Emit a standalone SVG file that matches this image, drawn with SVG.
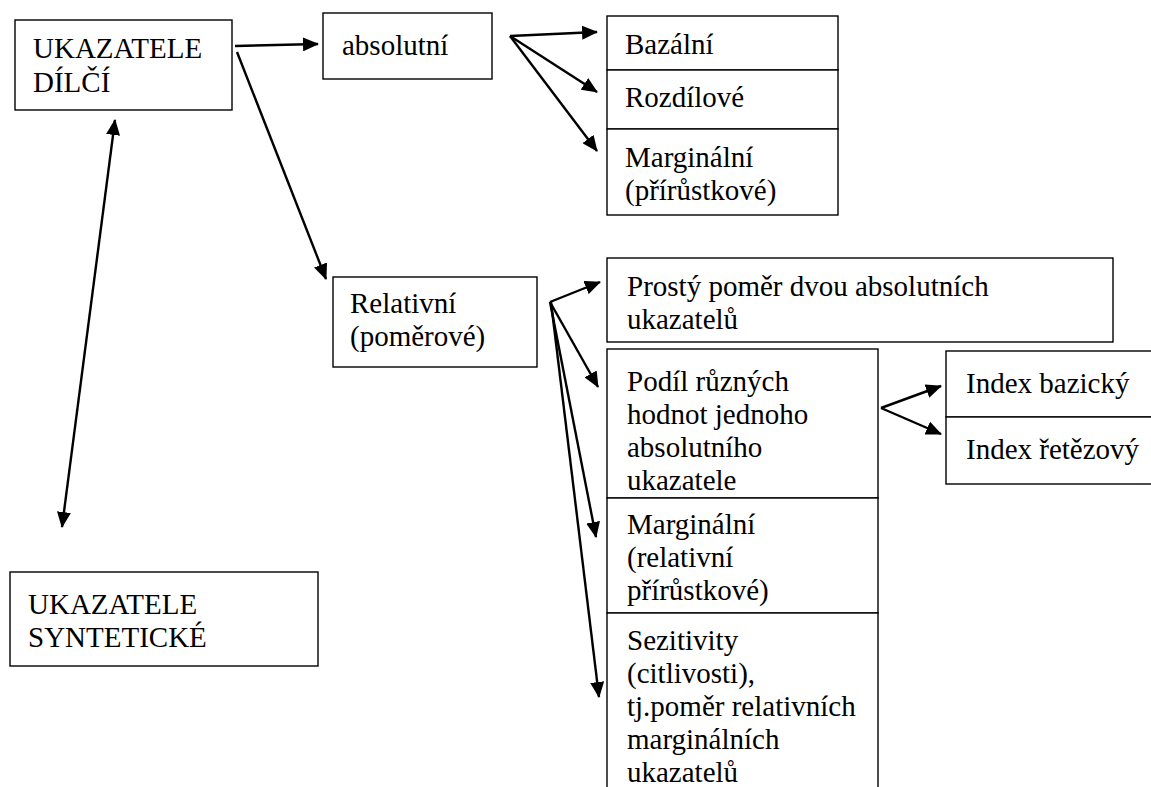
<svg xmlns="http://www.w3.org/2000/svg" width="1151" height="787" viewBox="0 0 1151 787">
<defs>
<marker id="ah" markerUnits="userSpaceOnUse" markerWidth="16" markerHeight="14" refX="15" refY="7" orient="auto">
<path d="M0,0 L16,7 L0,14 Z" fill="#000"/>
</marker>
<marker id="ahs" markerUnits="userSpaceOnUse" markerWidth="16" markerHeight="14" refX="1" refY="7" orient="auto">
<path d="M16,0 L0,7 L16,14 Z" fill="#000"/>
</marker>
</defs>
<rect width="1151" height="787" fill="#fff"/>
<g id="n-dilci"><rect fill="#fff" stroke="#000" stroke-width="1.4" x="15" y="20" width="217" height="90"/><text font-family="Times New Roman" font-size="29" style="font-family:'Liberation Serif','Times New Roman',serif !important;font-size:29px" x="33" y="58">UKAZATELE</text><text font-family="Times New Roman" font-size="29" style="font-family:'Liberation Serif','Times New Roman',serif !important;font-size:29px" x="33" y="92">DÍLČÍ</text></g>
<g id="n-absolutni"><rect fill="#fff" stroke="#000" stroke-width="1.4" x="323" y="13" width="169" height="66"/><text font-family="Times New Roman" font-size="29" style="font-family:'Liberation Serif','Times New Roman',serif !important;font-size:29px" x="342" y="55">absolutní</text></g>
<g id="n-bazalni"><rect fill="#fff" stroke="#000" stroke-width="1.4" x="607" y="16" width="231" height="54"/><text font-family="Times New Roman" font-size="29" style="font-family:'Liberation Serif','Times New Roman',serif !important;font-size:29px" x="625" y="54">Bazální</text></g>
<g id="n-rozdilove"><rect fill="#fff" stroke="#000" stroke-width="1.4" x="607" y="70" width="231" height="59"/><text font-family="Times New Roman" font-size="29" style="font-family:'Liberation Serif','Times New Roman',serif !important;font-size:29px" x="625" y="107">Rozdílové</text></g>
<g id="n-marginalni"><rect fill="#fff" stroke="#000" stroke-width="1.4" x="607" y="129" width="231" height="86"/><text font-family="Times New Roman" font-size="29" style="font-family:'Liberation Serif','Times New Roman',serif !important;font-size:29px" x="625" y="167">Marginální</text><text font-family="Times New Roman" font-size="29" style="font-family:'Liberation Serif','Times New Roman',serif !important;font-size:29px" x="625" y="200">(přírůstkové)</text></g>
<g id="n-relativni"><rect fill="#fff" stroke="#000" stroke-width="1.4" x="333" y="277" width="204" height="90"/><text font-family="Times New Roman" font-size="29" style="font-family:'Liberation Serif','Times New Roman',serif !important;font-size:29px" x="350" y="313">Relativní</text><text font-family="Times New Roman" font-size="29" style="font-family:'Liberation Serif','Times New Roman',serif !important;font-size:29px" x="350" y="346">(poměrové)</text></g>
<g id="n-prosty"><rect fill="#fff" stroke="#000" stroke-width="1.4" x="607" y="258" width="506" height="84"/><text font-family="Times New Roman" font-size="29" style="font-family:'Liberation Serif','Times New Roman',serif !important;font-size:29px" x="627" y="296">Prostý poměr dvou absolutních</text><text font-family="Times New Roman" font-size="29" style="font-family:'Liberation Serif','Times New Roman',serif !important;font-size:29px" x="627" y="329">ukazatelů</text></g>
<g id="n-podil"><rect fill="#fff" stroke="#000" stroke-width="1.4" x="607" y="349" width="271" height="149"/><text font-family="Times New Roman" font-size="29" style="font-family:'Liberation Serif','Times New Roman',serif !important;font-size:29px" x="627" y="391">Podíl různých</text><text font-family="Times New Roman" font-size="29" style="font-family:'Liberation Serif','Times New Roman',serif !important;font-size:29px" x="627" y="424">hodnot jednoho</text><text font-family="Times New Roman" font-size="29" style="font-family:'Liberation Serif','Times New Roman',serif !important;font-size:29px" x="627" y="457">absolutního</text><text font-family="Times New Roman" font-size="29" style="font-family:'Liberation Serif','Times New Roman',serif !important;font-size:29px" x="627" y="490">ukazatele</text></g>
<g id="n-marg-rel"><rect fill="#fff" stroke="#000" stroke-width="1.4" x="607" y="498" width="271" height="115"/><text font-family="Times New Roman" font-size="29" style="font-family:'Liberation Serif','Times New Roman',serif !important;font-size:29px" x="627" y="534">Marginální</text><text font-family="Times New Roman" font-size="29" style="font-family:'Liberation Serif','Times New Roman',serif !important;font-size:29px" x="627" y="567">(relativní</text><text font-family="Times New Roman" font-size="29" style="font-family:'Liberation Serif','Times New Roman',serif !important;font-size:29px" x="627" y="600">přírůstkové)</text></g>
<g id="n-sezitivity"><rect fill="#fff" stroke="#000" stroke-width="1.4" x="607" y="613" width="271" height="190"/><text font-family="Times New Roman" font-size="29" style="font-family:'Liberation Serif','Times New Roman',serif !important;font-size:29px" x="627" y="650">Sezitivity</text><text font-family="Times New Roman" font-size="29" style="font-family:'Liberation Serif','Times New Roman',serif !important;font-size:29px" x="627" y="683">(citlivosti),</text><text font-family="Times New Roman" font-size="29" style="font-family:'Liberation Serif','Times New Roman',serif !important;font-size:29px" x="627" y="716">tj.poměr relativních</text><text font-family="Times New Roman" font-size="29" style="font-family:'Liberation Serif','Times New Roman',serif !important;font-size:29px" x="627" y="749">marginálních</text><text font-family="Times New Roman" font-size="29" style="font-family:'Liberation Serif','Times New Roman',serif !important;font-size:29px" x="627" y="782">ukazatelů</text></g>
<g id="n-index-baz"><rect fill="#fff" stroke="#000" stroke-width="1.4" x="946" y="351" width="220" height="66"/><text font-family="Times New Roman" font-size="29" style="font-family:'Liberation Serif','Times New Roman',serif !important;font-size:29px" x="966" y="393">Index bazický</text></g>
<g id="n-index-ret"><rect fill="#fff" stroke="#000" stroke-width="1.4" x="946" y="417" width="220" height="67"/><text font-family="Times New Roman" font-size="29" style="font-family:'Liberation Serif','Times New Roman',serif !important;font-size:29px" x="966" y="459">Index řetězový</text></g>
<g id="n-synteticke"><rect fill="#fff" stroke="#000" stroke-width="1.4" x="10" y="572" width="308" height="94"/><text font-family="Times New Roman" font-size="29" style="font-family:'Liberation Serif','Times New Roman',serif !important;font-size:29px" x="28" y="614">UKAZATELE</text><text font-family="Times New Roman" font-size="29" style="font-family:'Liberation Serif','Times New Roman',serif !important;font-size:29px" x="28" y="647">SYNTETICKÉ</text></g>
<g id="connectors" stroke="#000" stroke-width="2.4" fill="none" marker-end="url(#ah)">
<line x1="235" y1="46" x2="318" y2="44"/>
<line x1="237" y1="52" x2="326" y2="279"/>
<line x1="62" y1="527" x2="115" y2="120" marker-start="url(#ahs)"/>
<line x1="510" y1="36" x2="597" y2="32"/>
<line x1="510" y1="36" x2="597" y2="92"/>
<line x1="510" y1="36" x2="597" y2="151"/>
<line x1="550" y1="302" x2="600" y2="282"/>
<line x1="550" y1="302" x2="598" y2="387"/>
<line x1="550" y1="302" x2="596" y2="537"/>
<line x1="551" y1="302" x2="599" y2="697"/>
<line x1="881" y1="408" x2="941" y2="386"/>
<line x1="881" y1="408" x2="941" y2="434"/>
</g>
</svg>
